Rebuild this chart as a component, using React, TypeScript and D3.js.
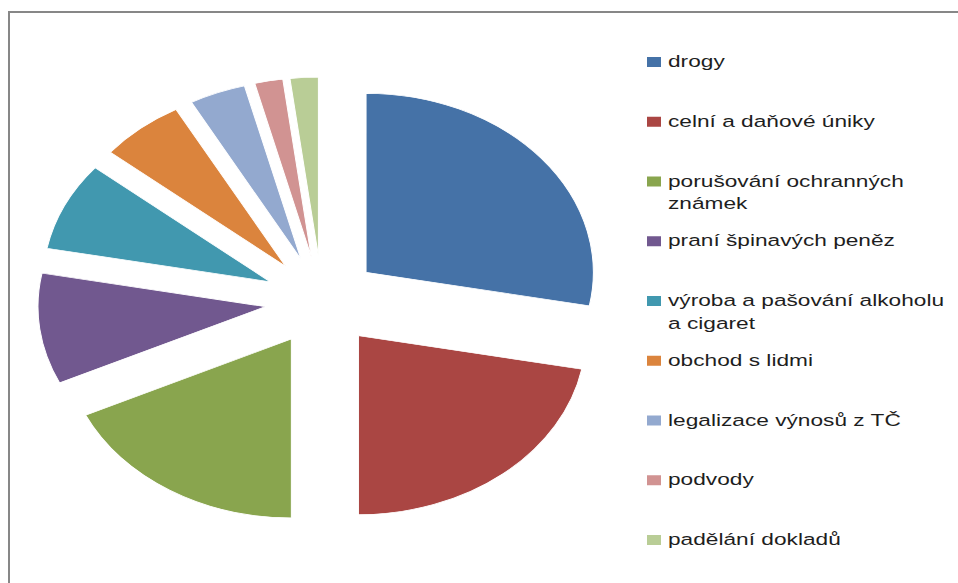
import React from 'react';
import * as d3 from 'd3';

// categories + shares (%)
const categories = [
  'drogy',
  'celní a daňové úniky',
  'porušování ochranných známek',
  'praní špinavých peněz',
  'výroba a pašování alkoholu a cigaret',
  'obchod s lidmi',
  'legalizace výnosů z TČ',
  'podvody',
  'padělání dokladů',
];
const values = [28, 22, 18, 10, 8, 6, 4, 2, 2];
const colors = [
  '#4572A7', '#AA4643', '#89A54E', '#71588F', '#4198AF',
  '#DB843D', '#93A9CF', '#D19392', '#B9CD96',
];
// how the legend wraps the long names
const legendLines = [
  ['drogy'],
  ['celní a daňové úniky'],
  ['porušování ochranných', 'známek'],
  ['praní špinavých peněz'],
  ['výroba a pašování alkoholu', 'a cigaret'],
  ['obchod s lidmi'],
  ['legalizace výnosů z TČ'],
  ['podvody'],
  ['padělání dokladů'],
];

const W = 958;
const H = 583;
const cx = 322;
const cy = 301;
const radius = 179;
const stretch = 1.27; // the source picture is wider than tall
const textStretch = 1.375;
const explode = 45;

const App: React.FC = () => {
  const pie = d3.pie<number>().sort(null).startAngle(0).endAngle(2 * Math.PI);
  const arcs = pie(values);
  const arc = d3.arc<d3.PieArcDatum<number>>().innerRadius(0).outerRadius(radius);

  const legendY = d3.scaleLinear().domain([0, categories.length - 1]).range([67, 545]);

  return (
    <svg
      width={W}
      height={H}
      style={{ position: 'absolute', left: 0, top: 0, background: '#fff' }}
      fontFamily="'Liberation Sans', Arial, sans-serif"
    >
      <rect x={0} y={0} width={W} height={H} fill="#fff" />
      {/* frame: only top and left edges show */}
      <line x1={9} y1={12} x2={W} y2={12} stroke="#878787" strokeWidth={2} />
      <line x1={9} y1={11} x2={9} y2={H} stroke="#878787" strokeWidth={2} />

      <g transform={`translate(${cx},${cy}) scale(${stretch},1)`}>
        {arcs.map((a, i) => {
          const mid = (a.startAngle + a.endAngle) / 2;
          const dx = explode * Math.sin(mid);
          const dy = -explode * Math.cos(mid);
          return (
            <path
              key={categories[i]}
              d={arc(a) || ''}
              transform={`translate(${dx},${dy})`}
              fill={colors[i]}
              stroke="#fff"
              strokeWidth={0.8}
            />
          );
        })}
      </g>

      <g>
        {categories.map((c, i) => {
          const y = legendY(i);
          return (
            <g key={c}>
              <rect x={647} y={y - 10} width={14} height={10} fill={colors[i]} />
              {legendLines[i].map((line, j) => (
                <text
                  key={line}
                  transform={`translate(668,${y + j * 22.5}) scale(${textStretch},1)`}
                  fontSize={16.5}
                  fill="#1e1e1e"
                >
                  {line}
                </text>
              ))}
            </g>
          );
        })}
      </g>
    </svg>
  );
};

export default App;
